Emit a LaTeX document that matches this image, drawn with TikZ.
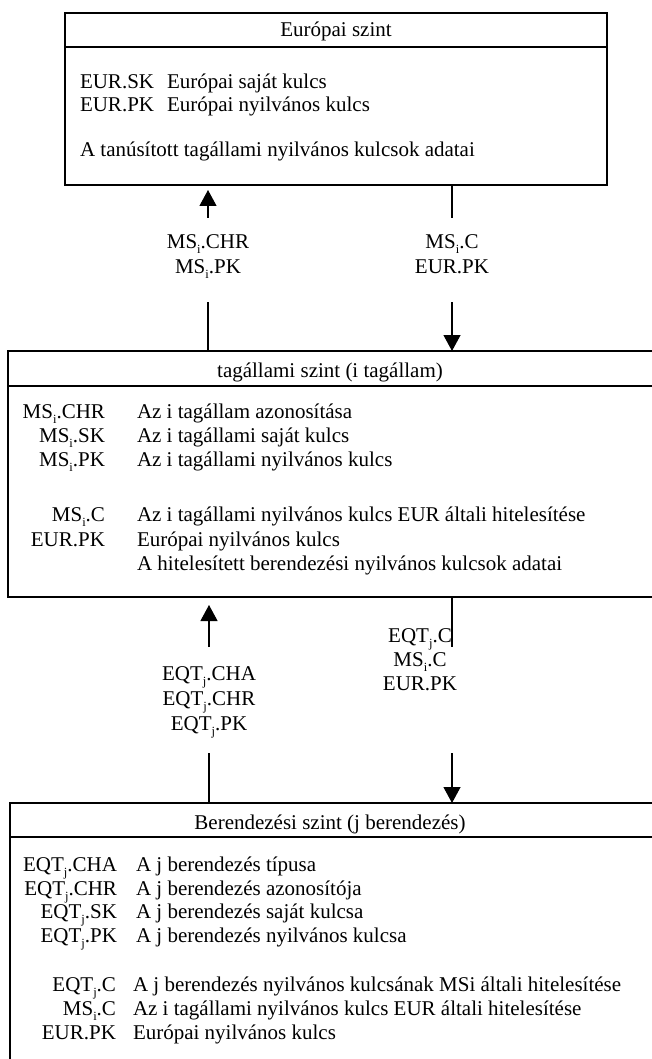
\documentclass[tikz,border=0pt]{standalone}
\usepackage{fontspec}
\setmainfont{Liberation Serif}
\usetikzlibrary{arrows.meta}
% small lowered index, as in MS_i and EQT_j
\newcommand{\lowidx}[1]{\raisebox{-5.5pt}{\fontsize{12.5}{12.5}\selectfont #1}}

\begin{document}
\begin{tikzpicture}[x=1pt,y=-1pt,
  every node/.style={inner sep=0pt, outer sep=0pt, font=\fontsize{21}{24}\selectfont},
  frame/.style={draw, line width=1.5pt, anchor=north west},
  divider/.style={line width=1.5pt},
  conn/.style={line width=1.2pt},
  arr/.style={conn, -{Triangle[width=17pt,length=16pt]}},
  desc/.style={anchor=base west},
  key/.style={anchor=base east},
  mid/.style={anchor=base}]
\useasboundingbox (0,0) rectangle (652,1059);
\clip (0,0) rectangle (652,1059);

% ---------- European level ----------
\node[frame, minimum width=542pt, minimum height=172pt] (eu) at (65,13) {};
\draw[divider] (eu.west |- 0,47) -- (eu.east |- 0,47);
\node[mid] (euhead) at (336,37) {Európai szint};
\node[desc] (eusk) at (80,89) {EUR.SK};
\node[desc] (euskd) at (167,89) {Európai saját kulcs};
\node[desc] (eupk) at (80,112) {EUR.PK};
\node[desc] (eupkd) at (167,112) {Európai nyilvános kulcs};
\node[desc] (eudata) at (80,157) {A tanúsított tagállami nyilvános kulcsok adatai};

% ---------- Member state level ----------
\node[frame, minimum width=660pt, minimum height=246pt] (ms) at (8,351) {};
\draw[divider] (ms.west |- 0,386) -- (ms.east |- 0,386);
\node[mid] (mshead) at (330,377) {tagállami szint (i tagállam)};
\node[key] (mschr) at (105,418) {MS\lowidx{i}.CHR};
\node[desc] (mschrd) at (137,418) {Az i tagállam azonosítása};
\node[key] (mssk) at (105,442) {MS\lowidx{i}.SK};
\node[desc] (msskd) at (137,442) {Az i tagállami saját kulcs};
\node[key] (mspk) at (105,466) {MS\lowidx{i}.PK};
\node[desc] (mspkd) at (137,466) {Az i tagállami nyilvános kulcs};
\node[key] (msc) at (105,521) {MS\lowidx{i}.C};
\node[desc] (mscd) at (137,521) {Az i tagállami nyilvános kulcs EUR általi hitelesítése};
\node[key] (mseur) at (105,546) {EUR.PK};
\node[desc] (mseurd) at (137,546) {Európai nyilvános kulcs};
\node[desc] (msdata) at (137,570) {A hitelesített berendezési nyilvános kulcsok adatai};

% ---------- Equipment level ----------
\node[frame, minimum width=660pt, minimum height=300pt] (eq) at (10,803) {};
\draw[divider] (eq.west |- 0,837) -- (eq.east |- 0,837);
\node[mid] (eqhead) at (330,829) {Berendezési szint (j berendezés)};
\node[key] (eqcha) at (117,871) {EQT\lowidx{j}.CHA};
\node[desc] (eqchad) at (136,871) {A j berendezés típusa};
\node[key] (eqchr) at (117,895) {EQT\lowidx{j}.CHR};
\node[desc] (eqchrd) at (136,895) {A j berendezés azonosítója};
\node[key] (eqsk) at (117,918) {EQT\lowidx{j}.SK};
\node[desc] (eqskd) at (136,918) {A j berendezés saját kulcsa};
\node[key] (eqpk) at (117,942) {EQT\lowidx{j}.PK};
\node[desc] (eqpkd) at (136,942) {A j berendezés nyilvános kulcsa};
\node[key] (eqc) at (116,991) {EQT\lowidx{j}.C};
\node[desc] (eqcd) at (133,991) {A j berendezés nyilvános kulcsának MSi általi hitelesítése};
\node[key] (eqmsc) at (116,1015) {MS\lowidx{i}.C};
\node[desc] (eqmscd) at (133,1015) {Az i tagállami nyilvános kulcs EUR általi hitelesítése};
\node[key] (eqeur) at (116,1039) {EUR.PK};
\node[desc] (eqeurd) at (133,1039) {Európai nyilvános kulcs};

% ---------- exchange between European and member state level ----------
\node[mid] (up1a) at (208,248) {MS\lowidx{i}.CHR};
\node[mid] (up1b) at (208,273) {MS\lowidx{i}.PK};
\draw[arr, shorten <=30pt, shorten >=5pt] (up1a.base) -- (up1a.base |- eu.south);
\draw[conn, shorten <=29pt] (up1b.base) -- (up1b.base |- ms.north);

\node[mid] (dn1a) at (452,248) {MS\lowidx{i}.C};
\node[mid] (dn1b) at (452,273) {EUR.PK};
\draw[conn, shorten >=30pt] (dn1a.base |- eu.south) -- (dn1a.base);
\draw[arr, shorten <=29pt] (dn1b.base) -- (dn1b.base |- ms.north);

% ---------- exchange between member state and equipment level ----------
\node[mid] (up2a) at (209,680) {EQT\lowidx{j}.CHA};
\node[mid] (up2b) at (209,705) {EQT\lowidx{j}.CHR};
\node[mid] (up2c) at (209,730) {EQT\lowidx{j}.PK};
\draw[arr, shorten <=33pt, shorten >=8pt] (up2a.base) -- (up2a.base |- ms.south);
\draw[conn, shorten <=23pt] (up2c.base) -- (up2c.base |- eq.north);

\coordinate (dncol) at (452,0);
\node[mid] (dn2a) at (420,642) {EQT\lowidx{j}.C};
\node[mid] (dn2b) at (420,666) {MS\lowidx{i}.C};
\node[mid] (dn2c) at (420,690) {EUR.PK};
\draw[conn, shorten >=-5pt] (dncol |- ms.south) -- (dncol |- dn2a.base);
\draw[arr, shorten <=63pt] (dncol |- dn2c.base) -- (dncol |- eq.north);
\end{tikzpicture}
\end{document}
